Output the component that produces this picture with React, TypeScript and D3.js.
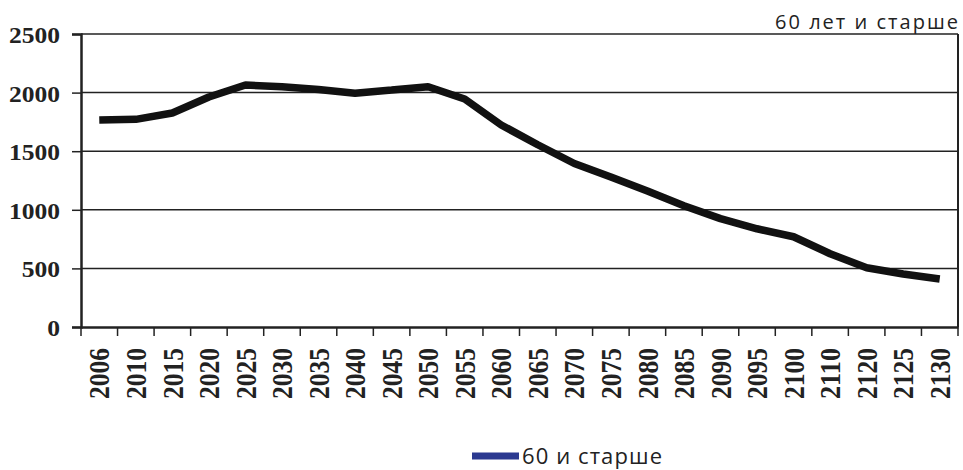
import { useRef, useEffect } from 'react'
import * as d3 from 'd3'

const years = [
  '2006', '2010', '2015', '2020', '2025', '2030', '2035', '2040', '2045', '2050', '2055',
  '2060', '2065', '2070', '2075', '2080', '2085', '2090', '2095', '2100', '2110', '2120', '2125', '2130',
]

const olderValues = [
  1766, 1772, 1826, 1962, 2065, 2050, 2026, 1995, 2022, 2050, 1945,
  1724, 1555, 1395, 1280, 1160, 1035, 925, 838, 770, 625, 505, 452, 410,
]

const yTicks = [0, 500, 1000, 1500, 2000, 2500]

const seriesName = '60 и старше'
const chartTitle = '60 лет и старше'

export default function App() {
  const svgRef = useRef<SVGSVGElement>(null)
  const width = 963
  const height = 470

  useEffect(() => {
    if (!svgRef.current) return
    const svg = d3.select(svgRef.current)
    svg.selectAll('*').remove()

    const margin = { top: 34, right: 5, bottom: 143, left: 81 }
    const w = width - margin.left - margin.right
    const h = height - margin.top - margin.bottom

    const x = d3.scaleBand<string>().domain(years).range([0, w]).padding(0)
    const y = d3.scaleLinear().domain([0, 2500]).range([h, 0])

    const g = svg.append('g').attr('transform', `translate(${margin.left},${margin.top})`)

    // horizontal gridlines
    g.selectAll('.grid')
      .data(yTicks.filter((t) => t > 0))
      .join('line')
      .attr('x1', 0).attr('x2', w)
      .attr('y1', (d) => y(d)).attr('y2', (d) => y(d))
      .attr('stroke', '#222')
      .attr('stroke-width', 1.5)

    // frame right side
    g.append('line')
      .attr('x1', w).attr('x2', w).attr('y1', 0).attr('y2', h)
      .attr('stroke', '#222').attr('stroke-width', 2)

    // y axis
    const yAxis = g.append('g')
      .call(d3.axisLeft(y).tickValues(yTicks).tickSize(9).tickPadding(12).tickFormat((d) => String(d)))
    yAxis.select('.domain').attr('stroke', '#222').attr('stroke-width', 2.5)
    yAxis.selectAll('.tick line').attr('stroke', '#222').attr('stroke-width', 1.5)
    yAxis.selectAll('text')
      .attr('font-family', '"Liberation Serif", "Times New Roman", serif')
      .attr('font-weight', 'bold')
      .attr('font-size', 24)
      .attr('fill', '#222')
      .attr('dy', '0.35em')
      .each(function () {
        const t = d3.select(this)
        t.attr('textLength', (t.text().length * 12.75).toFixed(1)).attr('lengthAdjust', 'spacingAndGlyphs')
      })

    // x axis
    const xAxis = g.append('g')
      .attr('transform', `translate(0,${h})`)
      .call(d3.axisBottom(x).tickSize(0).tickPadding(0))
    xAxis.select('.domain').attr('stroke', '#222').attr('stroke-width', 2.5)
    xAxis.selectAll('text')
      .attr('font-family', '"Liberation Serif", "Times New Roman", serif')
      .attr('font-weight', 'bold')
      .attr('font-size', 29)
      .attr('fill', '#222')
      .attr('transform', 'rotate(-90)')
      .attr('x', -21)
      .attr('y', 0)
      .attr('dy', '0.35em')
      .style('text-anchor', 'end')
      .attr('textLength', 51)
      .attr('lengthAdjust', 'spacingAndGlyphs')

    // x tick marks at band edges
    g.selectAll('.xtick')
      .data([...years.map((d) => x(d) ?? 0), w])
      .join('line')
      .attr('x1', (d) => d).attr('x2', (d) => d)
      .attr('y1', h).attr('y2', h + 9)
      .attr('stroke', '#222')
      .attr('stroke-width', 1.5)

    // series line
    const line = d3.line<number>()
      .x((_, i) => (x(years[i]) ?? 0) + x.bandwidth() / 2)
      .y((d) => y(d))
    g.append('path')
      .datum(olderValues)
      .attr('d', line)
      .attr('fill', 'none')
      .attr('stroke', '#111')
      .attr('stroke-width', 7.5)
      .attr('stroke-linejoin', 'bevel')

    // title at top-right
    svg.append('text')
      .attr('x', 775)
      .attr('y', 29)
      .attr('font-family', '"Open Sans", "Noto Sans", sans-serif')
      .attr('font-size', 20)
      .attr('fill', '#222')
      .attr('textLength', 183)
      .attr('lengthAdjust', 'spacing')
      .text(chartTitle)

    // legend
    const lg = svg.append('g').attr('transform', 'translate(472,456)')
    lg.append('line')
      .attr('x1', 0).attr('x2', 47)
      .attr('y1', 0).attr('y2', 0)
      .attr('stroke', '#2b3990')
      .attr('stroke-width', 7)
    lg.append('text')
      .attr('x', 50)
      .attr('y', 8)
      .attr('font-family', '"Open Sans", "Noto Sans", sans-serif')
      .attr('font-size', 22)
      .attr('fill', '#222')
      .attr('textLength', 140)
      .attr('lengthAdjust', 'spacing')
      .text(seriesName)
  }, [])

  return (
    <svg
      ref={svgRef}
      width={width}
      height={height}
      style={{ position: 'absolute', left: 0, top: 0, background: '#fff' }}
    />
  )
}
